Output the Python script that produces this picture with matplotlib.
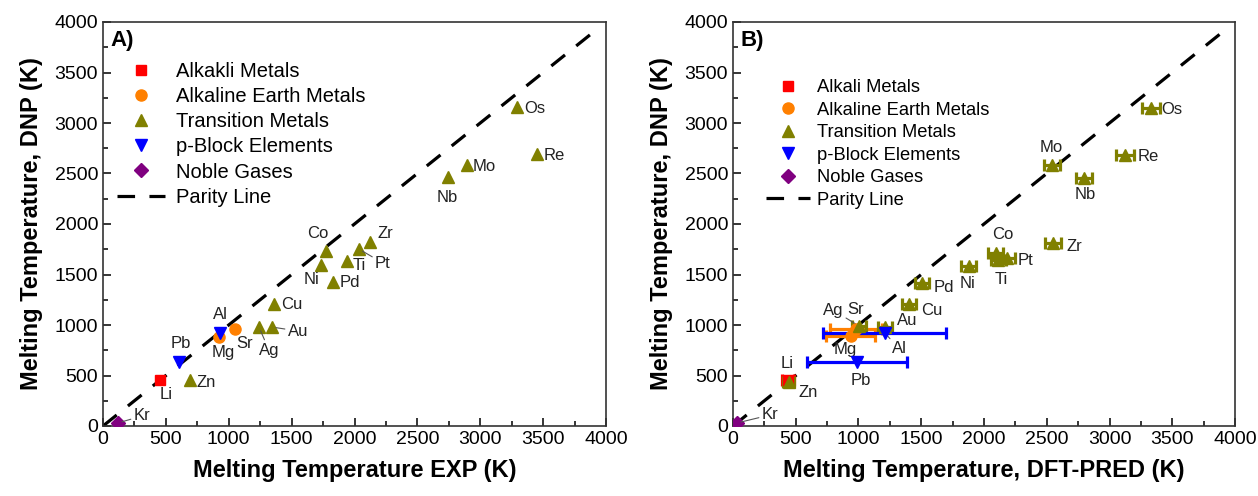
import matplotlib
matplotlib.use("Agg")
import matplotlib.pyplot as plt
from matplotlib.lines import Line2D
from matplotlib.ticker import MultipleLocator

plt.rcParams['font.family'] = ['Liberation Sans', 'DejaVu Sans']

# ---- data ----
alk_names = ['Li']
alk_exp = [453]
alk_dnp_a = [455]
alk_dft = [438]
alk_dft_err = [45]
alk_dnp_b = [455]

aem_names = ['Mg', 'Sr']
aem_exp = [922, 1050]
aem_dnp_a = [885, 960]
aem_dft = [940, 980]
aem_dft_err = [195, 207]
aem_dnp_b = [895, 962]

tm_names = ['Zn', 'Ag', 'Au', 'Cu', 'Pd', 'Ni', 'Co', 'Ti', 'Pt', 'Zr', 'Nb', 'Mo', 'Re', 'Os']
tm_exp = [692, 1240, 1343, 1360, 1830, 1733, 1773, 1940, 2035, 2123, 2743, 2895, 3450, 3292]
tm_dnp_a = [455, 980, 980, 1208, 1426, 1594, 1733, 1633, 1752, 1822, 2465, 2584, 2693, 3158]
tm_dft = [445, 1004, 1211, 1402, 1506, 1880, 2095, 2115, 2185, 2550, 2797, 2542, 3124, 3331]
tm_dft_err = [45, 55, 55, 55, 55, 60, 60, 60, 60, 60, 65, 65, 70, 70]
tm_dnp_b = [440, 990, 985, 1208, 1416, 1584, 1715, 1645, 1665, 1812, 2455, 2584, 2683, 3148]

pb_names = ['Pb', 'Al']
pb_exp = [604, 930]
pb_dnp_a = [634, 921]
pb_dft = [990, 1211]
pb_dft_err = [398, 490]
pb_dnp_b = [634, 921]

ng_names = ['Kr']
ng_exp = [119]
ng_dnp_a = [30]
ng_dft = [32]
ng_dnp_b = [30]

# label offsets in pixels (dx, dy, leader line?)
lab_a = {'Kr': (24, 7, True), 'Li': (6, -14, False), 'Zn': (16, -2, False),
         'Pb': (2, 18, False), 'Al': (0, 18, False), 'Mg': (4, -16, False),
         'Sr': (10, -14, False), 'Ag': (10, -23, True), 'Au': (26, -4, True),
         'Cu': (18, -1, False), 'Pd': (17, -1, False), 'Ni': (-9, -14, False),
         'Co': (-8, 17, False), 'Ti': (12, -4, False), 'Pt': (24, -14, True),
         'Zr': (15, 8, False), 'Nb': (-1, -20, False), 'Mo': (17, -1, False),
         'Re': (17, -1, False), 'Os': (18, -1, False)}
lab_b = {'Kr': (33, 8, True), 'Li': (-1, 17, False), 'Zn': (19, -11, False),
         'Pb': (4, -19, False), 'Al': (14, -16, True), 'Mg': (-6, -14, False),
         'Sr': (0, 19, False), 'Ag': (-26, 16, True), 'Au': (22, 6, False),
         'Cu': (23, -7, False), 'Pd': (22, -5, False), 'Ni': (-1, -17, False),
         'Co': (7, 18, False), 'Ti': (3, -20, False), 'Pt': (18, -3, False),
         'Zr': (21, -4, False), 'Nb': (1, -16, False), 'Mo': (-1, 18, False),
         'Re': (23, -1, False), 'Os': (21, -1, False)}

RED, ORANGE, OLIVE, BLUE, PURPLE = '#ff0000', '#ff8000', '#808000', '#0000ff', '#800080'

fig = plt.figure(figsize=(12.58, 4.96), dpi=100)
axA = fig.add_axes([103 / 1258, 70 / 496, 503 / 1258, 404 / 496])
axB = fig.add_axes([733 / 1258, 70 / 496, 502 / 1258, 404 / 496])


def style(ax, xlabel, tag):
    ax.set_xlim(0, 4000)
    ax.set_ylim(0, 4000)
    ax.xaxis.set_major_locator(MultipleLocator(500))
    ax.yaxis.set_major_locator(MultipleLocator(500))
    ax.xaxis.set_minor_locator(MultipleLocator(250))
    ax.yaxis.set_minor_locator(MultipleLocator(250))
    ax.tick_params(which='both', direction='in', top=False, right=False, labelsize=14)
    ax.tick_params(which='major', length=6, width=1.1)
    ax.tick_params(which='minor', length=3.5, width=1.1)
    for s in ax.spines.values():
        s.set_linewidth(1.2)
        s.set_color('#333333')
    ax.set_xlabel(xlabel, fontsize=17, fontweight='bold', labelpad=8)
    ax.set_ylabel('Melting Temperature, DNP (K)', fontsize=17, fontweight='bold', labelpad=8)
    ax.text(0.014, 0.98, tag, transform=ax.transAxes, fontsize=16, fontweight='bold',
            ha='left', va='top')
    ax.plot([0, 3900], [0, 3900], color='black', lw=2.3, ls=(0, (5.5, 4.5)), zorder=1)


def label(ax, names, xs, ys, table):
    for n, x, y in zip(names, xs, ys):
        dx, dy, lead = table[n]
        kw = {}
        if lead:
            kw['arrowprops'] = dict(arrowstyle='-', color='#555555', lw=0.8,
                                    shrinkA=0, shrinkB=3)
        ax.annotate(n, (x, y), xytext=(dx, dy), textcoords='offset pixels',
                    ha='center', va='center', fontsize=12, color='#222222', **kw)


# ---- panel A ----
axA.plot(alk_exp, alk_dnp_a, 's', color=RED, ms=6.5, zorder=3)
axA.plot(aem_exp, aem_dnp_a, 'o', color=ORANGE, ms=8, zorder=3)
axA.plot(tm_exp, tm_dnp_a, '^', color=OLIVE, ms=8.5, zorder=3)
axA.plot(pb_exp, pb_dnp_a, 'v', color=BLUE, ms=8.5, zorder=3)
axA.plot(ng_exp, ng_dnp_a, 'D', color=PURPLE, ms=7, zorder=3)
style(axA, 'Melting Temperature EXP (K)', 'A)')
for names, xs, ys in [(alk_names, alk_exp, alk_dnp_a), (aem_names, aem_exp, aem_dnp_a),
                      (tm_names, tm_exp, tm_dnp_a), (pb_names, pb_exp, pb_dnp_a),
                      (ng_names, ng_exp, ng_dnp_a)]:
    label(axA, names, xs, ys, lab_a)

# ---- panel B ----
eb = dict(ls='none', elinewidth=2.3, capsize=4.5, capthick=2.3, zorder=3)
axB.errorbar(alk_dft, alk_dnp_b, xerr=alk_dft_err, fmt='s', color=RED, ms=6.5, **eb)
axB.errorbar(aem_dft, aem_dnp_b, xerr=aem_dft_err, fmt='o', color=ORANGE, ms=8, **eb)
axB.errorbar(tm_dft, tm_dnp_b, xerr=tm_dft_err, fmt='^', color=OLIVE, ms=8, **eb)
axB.errorbar(pb_dft, pb_dnp_b, xerr=pb_dft_err, fmt='v', color=BLUE, ms=8, **eb)
axB.plot(ng_dft, ng_dnp_b, 'D', color=PURPLE, ms=7, zorder=3)
style(axB, 'Melting Temperature, DFT-PRED (K)', 'B)')
for names, xs, ys in [(alk_names, alk_dft, alk_dnp_b), (aem_names, aem_dft, aem_dnp_b),
                      (tm_names, tm_dft, tm_dnp_b), (pb_names, pb_dft, pb_dnp_b),
                      (ng_names, ng_dft, ng_dnp_b)]:
    label(axB, names, xs, ys, lab_b)


def handles(first):
    return [Line2D([], [], ls='none', marker='s', color=RED, ms=6.5, label=first),
            Line2D([], [], ls='none', marker='o', color=ORANGE, ms=8, label='Alkaline Earth Metals'),
            Line2D([], [], ls='none', marker='^', color=OLIVE, ms=8.5, label='Transition Metals'),
            Line2D([], [], ls='none', marker='v', color=BLUE, ms=8.5, label='p-Block Elements'),
            Line2D([], [], ls='none', marker='D', color=PURPLE, ms=7, label='Noble Gases'),
            Line2D([], [], color='black', lw=2.3, ls=(0, (5.5, 4.5)), label='Parity Line')]


axA.legend(handles=handles('Alkakli Metals'), loc='upper left', bbox_to_anchor=(0.0, 0.935),
           frameon=False, fontsize=14.5, handlelength=2.4, handletextpad=0.5,
           labelspacing=0.3, borderaxespad=0.3)
axB.legend(handles=handles('Alkali Metals'), loc='upper left', bbox_to_anchor=(0.04, 0.89),
           frameon=False, fontsize=13.2, handlelength=2.4, handletextpad=0.4,
           labelspacing=0.3, borderaxespad=0.3)

fig.savefig('out.png', dpi=100)
